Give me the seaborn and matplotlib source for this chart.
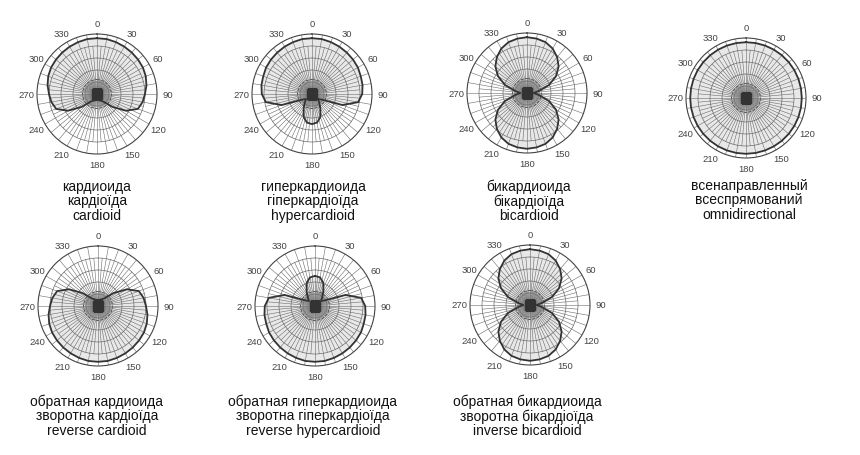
import numpy as np
import matplotlib
matplotlib.use("Agg")
import matplotlib.pyplot as plt
import seaborn as sns

sns.set_theme(style="white")
plt.rcParams["font.family"] = ["Liberation Sans", "DejaVu Sans"]

# pattern radius (1 = max) read at 0..360 deg, 10 deg steps
angles = list(range(0, 370, 10))

cardioid = [1.00, 1.00, 0.99, 0.98, 0.97, 0.96, 0.95, 0.93, 0.90, 0.86, 0.83, 0.78, 0.60, 0.36, 0.18, 0.14, 0.12, 0.11, 0.10,
            0.11, 0.12, 0.14, 0.18, 0.36, 0.60, 0.78, 0.83, 0.86, 0.90, 0.93, 0.95, 0.96, 0.97, 0.98, 0.99, 1.00, 1.00]
hypercardioid = [1.00, 1.00, 0.99, 0.98, 0.97, 0.96, 0.95, 0.93, 0.92, 0.90, 0.84, 0.58, 0.20, 0.14, 0.20, 0.30, 0.44, 0.52, 0.54,
                 0.52, 0.44, 0.30, 0.20, 0.14, 0.20, 0.58, 0.84, 0.90, 0.92, 0.93, 0.95, 0.96, 0.97, 0.98, 0.99, 1.00, 1.00]
bicardioid = [1.00, 0.99, 0.97, 0.92, 0.84, 0.74, 0.60, 0.42, 0.22, 0.12, 0.22, 0.42, 0.60, 0.74, 0.84, 0.92, 0.97, 0.99, 1.00,
              0.99, 0.97, 0.92, 0.84, 0.74, 0.60, 0.42, 0.22, 0.12, 0.22, 0.42, 0.60, 0.74, 0.84, 0.92, 0.97, 0.99, 1.00]
omni = [1.00] * 37
rev_cardioid = [0.10, 0.11, 0.12, 0.14, 0.18, 0.36, 0.60, 0.78, 0.83, 0.86, 0.90, 0.93, 0.95, 0.96, 0.97, 0.98, 0.99, 1.00, 1.00,
                1.00, 0.99, 0.98, 0.97, 0.96, 0.95, 0.93, 0.90, 0.86, 0.83, 0.78, 0.60, 0.36, 0.18, 0.14, 0.12, 0.11, 0.10]
rev_hypercardioid = [0.54, 0.52, 0.44, 0.30, 0.20, 0.14, 0.20, 0.58, 0.84, 0.90, 0.92, 0.93, 0.95, 0.96, 0.97, 0.98, 0.99, 1.00, 1.00,
                     1.00, 0.99, 0.98, 0.97, 0.96, 0.95, 0.93, 0.92, 0.90, 0.84, 0.58, 0.20, 0.14, 0.20, 0.30, 0.44, 0.52, 0.54]
inv_bicardioid = bicardioid

patterns = [cardioid, hypercardioid, bicardioid, omni, rev_cardioid, rev_hypercardioid, inv_bicardioid]

names = [
    ["кардиоида", "кардіоїда", "cardioid"],
    ["гиперкардиоида", "гіперкардіоїда", "hypercardioid"],
    ["бикардиоида", "бікардіоїда", "bicardioid"],
    ["всенаправленный", "всеспрямований", "omnidirectional"],
    ["обратная кардиоида", "зворотна кардіоїда", "reverse cardioid"],
    ["обратная гиперкардиоида", "зворотна гіперкардіоїда", "reverse hypercardioid"],
    ["обратная бикардиоида", "зворотна бікардіоїда", "inverse bicardioid"],
]

tick_deg = list(range(0, 360, 30))
tick_labels = [str(d) for d in tick_deg]

# layout in pixels
centers = [(97, 95), (312, 95), (527, 94), (746, 99), (98, 307), (315, 307), (530, 306)]
label_pos = [(97, 187), (313, 187), (529, 187), (749, 186), (97, 402), (313, 402), (527, 402)]
W, H = 860, 456
R = 60
PMAX = 0.93

fig = plt.figure(figsize=(W / 100, H / 100), dpi=100)
fig.patch.set_facecolor("white")

circ = np.linspace(0, 2 * np.pi, 300)
grid_c = "#6a6a6a"

for i, vals in enumerate(patterns):
    cx, cy = centers[i]
    ax = fig.add_axes([(cx - R) / W, 1 - (cy + R) / H, 2 * R / W, 2 * R / H], projection="polar")
    ax.set_theta_zero_location("N")
    ax.set_theta_direction(-1)
    ax.set_facecolor("white")
    ax.grid(False)

    th = np.deg2rad(angles)
    r = np.array(vals) * PMAX
    ax.fill(th, r, color="#e8e8e8", zorder=1, lw=0)

    # center darkening
    ax.fill(circ, np.full_like(circ, 0.22), color="#a0a0a0", alpha=0.4, lw=0, zorder=1)

    # rings
    for rr in [0.2, 0.4, 0.6, 0.8]:
        ax.plot(circ, np.full_like(circ, rr), color=grid_c, lw=0.5, zorder=2)
    ax.plot(circ, np.full_like(circ, 0.24), color="#333333", lw=0.6, ls="--", zorder=2)

    # spokes
    for a in range(0, 360, 10):
        ax.plot([np.deg2rad(a)] * 2, [0, 1], color=grid_c, lw=0.4, zorder=2)
    for a in range(5, 360, 10):
        ax.plot([np.deg2rad(a)] * 2, [0, 0.8], color=grid_c, lw=0.4, zorder=2)

    ax.plot([0], [0], marker="s", ms=7, color="#333333", zorder=4)

    sns.lineplot(x=th, y=r, ax=ax, sort=False, color="#333333", lw=1.3, zorder=3)

    ax.set_ylim(0, 1)
    ax.set_yticks([])
    ax.set_xticks(np.deg2rad(tick_deg))
    ax.set_xticklabels(tick_labels)
    ax.tick_params(axis="x", labelsize=6.8, colors="#444444", pad=0.5, length=0)
    ax.set_xlabel("")
    ax.set_ylabel("")
    ax.spines["polar"].set_color("#444444")
    ax.spines["polar"].set_linewidth(0.8)

    lx, ly = label_pos[i]
    for j, line in enumerate(names[i]):
        fig.text(lx / W, 1 - (ly + j * 14.3) / H, line, ha="center", va="center",
                 fontsize=10, color="#111111")

fig.savefig("out.png", dpi=100)
